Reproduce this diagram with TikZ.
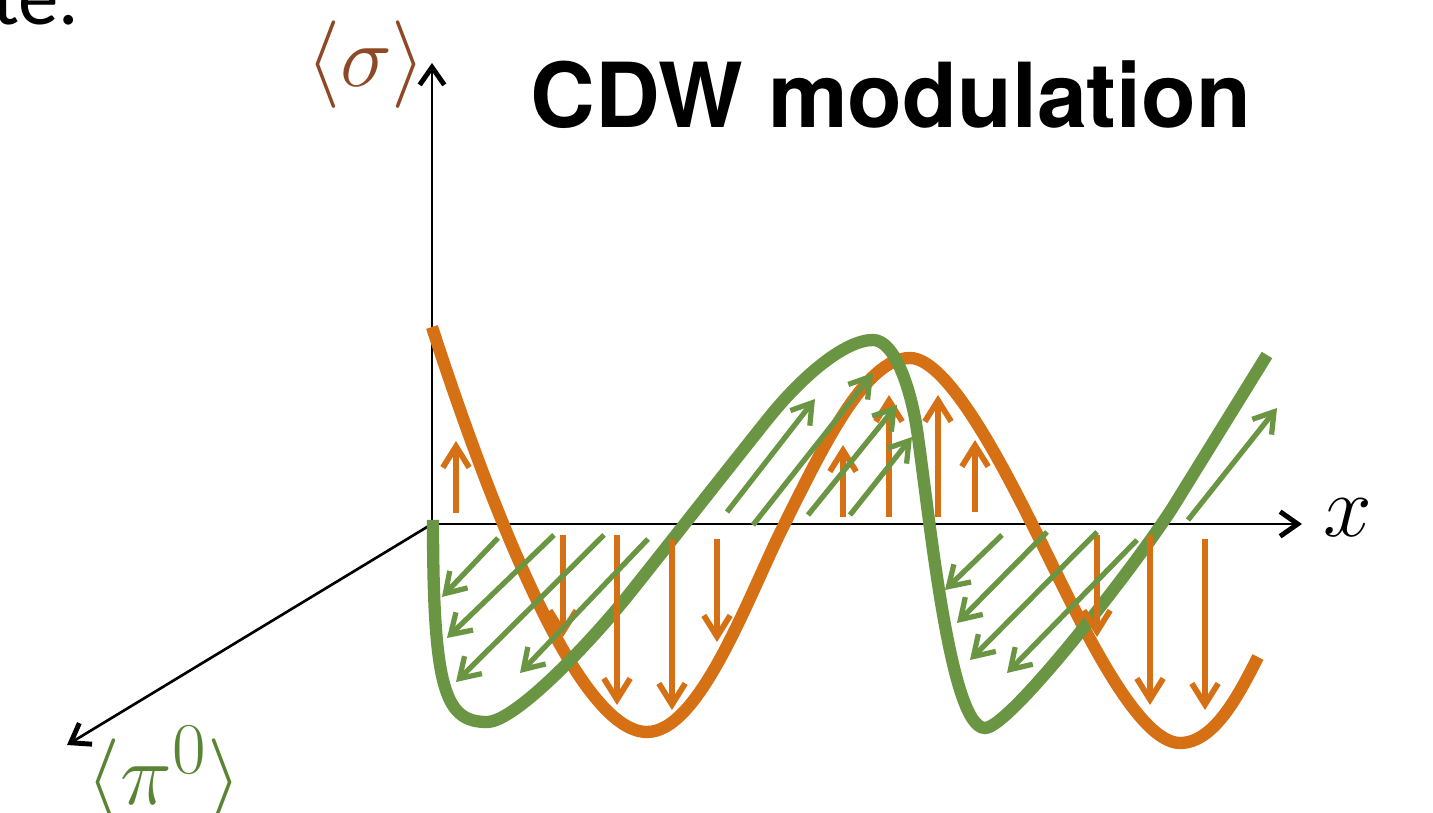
\documentclass[tikz,border=0pt]{standalone}
\usepackage{fontspec}
\newfontfamily\headfont{TeX Gyre Heros}
\newfontfamily\notefont{Carlito}
\usetikzlibrary{arrows.meta}
\definecolor{cdwgreen}{RGB}{106,150,68}
\definecolor{cdworange}{RGB}{213,113,20}
\definecolor{sigbrown}{RGB}{142,72,38}
\definecolor{piongreen}{RGB}{88,132,52}
\begin{document}
\begin{tikzpicture}[x=0.01cm, y=-0.01cm,
    axisline/.style={black, line width=0.75pt, -{Straight Barb[length=5pt,width=7pt,line width=1.4pt]}},
    sigcurve/.style={cdworange, line width=3.5pt},
    pioncurve/.style={cdwgreen, line width=3.5pt},
    sigarrow/.style={cdworange, line width=1.65pt, -{Straight Barb[length=6pt,width=7.5pt]}},
    pionarrow/.style={cdwgreen, line width=1.5pt, -{Straight Barb[length=5.5pt,width=7pt]}}]
    \useasboundingbox (0,0) rectangle (1433,813);

    % axes
    \coordinate (O) at (432,524);
    \coordinate (sigtip) at (432,63);
    \coordinate (xtip) at (1302,524);
    \coordinate (piontip) at (67,745);
    \draw[axisline] (O) -- (sigtip);
    \draw[axisline] (O) -- (xtip);
    \draw[axisline] (O) -- (piontip);

    % labels
    \node[anchor=base east, inner sep=0, font=\notefont\fontsize{23}{27}\selectfont] (rest) at (80,25) {te.};
    \node[anchor=base, font=\headfont\bfseries\fontsize{25.5}{30}\selectfont] (title) at (891,128) {CDW modulation};
    \node[anchor=base, sigbrown, font=\fontsize{24.88}{29}\selectfont] (siglab) at (366,87) {$\langle\sigma\rangle$};
    \node[anchor=base, piongreen, font=\fontsize{24.88}{29}\selectfont] (pionlab) at (164,805) {$\langle\pi^0\rangle$};
    \node[anchor=base, font=\fontsize{24.88}{29}\selectfont] (xlab) at (1348,537) {$x$};

    % sigma wave
    \draw[sigcurve] (432,327) .. controls (485,490) and (575,732) .. (647,732)
        .. controls (700,732) and (748,597) .. (783,527)
        .. controls (823,447) and (865,358) .. (910,358)
        .. controls (950,358) and (1010,480) .. (1040,540)
        .. controls (1075,610) and (1135,743) .. (1180,743)
        .. controls (1215,743) and (1240,692) .. (1258,657);

    % pion wave
    \draw[pioncurve] (433,520) .. controls (433,690) and (445,722) .. (487,722)
        .. controls (515,722) and (590,643) .. (630,593)
        .. controls (665,549) and (735,460) .. (767,420)
        .. controls (802,376) and (845,340) .. (873,340)
        .. controls (895,340) and (911,390) .. (917,430)
        .. controls (930,520) and (950,728) .. (985,728)
        .. controls (1010,728) and (1138,562) .. (1173,507)
        -- (1267,355);

    % sigma arrows
    \draw[sigarrow] (456,513) -- (456,441);
    \draw[sigarrow] (563,535) -- (563,637);
    \draw[sigarrow] (617,535) -- (617,705);
    \draw[sigarrow] (672,539) -- (672,710);
    \draw[sigarrow] (717,539) -- (717,642);
    \draw[sigarrow] (843,517) -- (843,445);
    \draw[sigarrow] (889,517) -- (889,395);
    \draw[sigarrow] (938,517) -- (938,395);
    \draw[sigarrow] (975,512) -- (975,440);
    \draw[sigarrow] (1097,535) -- (1097,637);
    \draw[sigarrow] (1150,535) -- (1150,705);
    \draw[sigarrow] (1205,539) -- (1205,710);

    % pion arrows
    \draw[pionarrow] (498,538) -- (442,597);
    \draw[pionarrow] (554,535) -- (447,638);
    \draw[pionarrow] (604,535) -- (456,682);
    \draw[pionarrow] (648,539) -- (520,673);
    \draw[pionarrow] (727,512) -- (815,399);
    \draw[pionarrow] (753,525) -- (873,373);
    \draw[pionarrow] (808,515) -- (897,405);
    \draw[pionarrow] (850,515) -- (912,437);
    \draw[pionarrow] (1002,535) -- (945,590);
    \draw[pionarrow] (1047,532) -- (957,623);
    \draw[pionarrow] (1097,532) -- (970,660);
    \draw[pionarrow] (1137,540) -- (1007,673);
    \draw[pionarrow] (1188,520) -- (1277,408);
\end{tikzpicture}
\end{document}
